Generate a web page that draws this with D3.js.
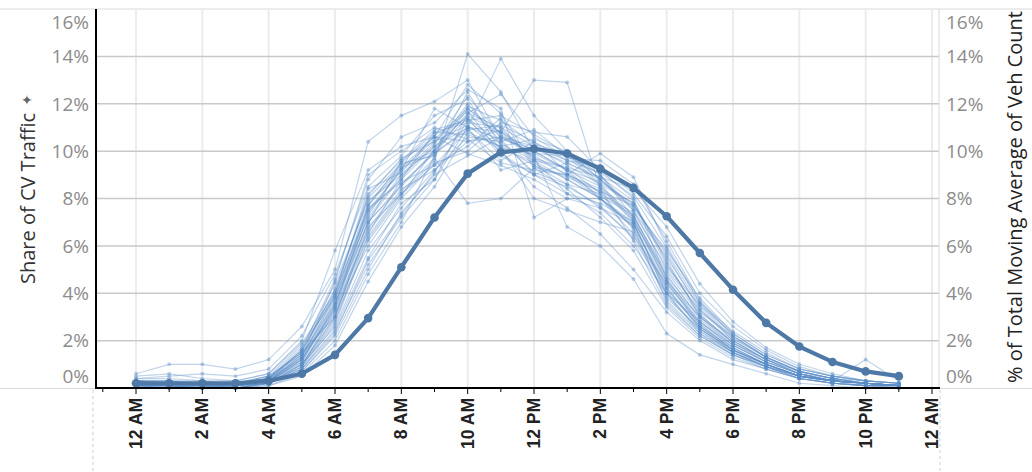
<!DOCTYPE html>
<html>
<head>
<meta charset="utf-8">
<script src="https://cdn.jsdelivr.net/npm/d3@7"></script>
<style>
  body{margin:0;background:#fff;}
  svg{display:block;font-family:"Open Sans","Noto Sans",sans-serif;}
</style>
</head>
<body>
<svg id="chart" width="1032" height="472"></svg>
<script>
// ===== DATA =====
const hours = d3.range(0,24);
const xTickHours = d3.range(0,25,2);
const xTickLabels = ["12 AM","2 AM","4 AM","6 AM","8 AM","10 AM","12 PM","2 PM","4 PM","6 PM","8 PM","10 PM","12 AM"];
const yTicks = [0,2,4,6,8,10,12,14,16];

// total share (thick line)
const totalShare = [0.2,0.2,0.2,0.2,0.3,0.6,1.4,2.95,5.1,7.2,9.05,9.95,10.1,9.9,9.25,8.45,7.25,5.7,4.15,2.75,1.75,1.1,0.7,0.5];

// individual days (thin lines)
const s1  = [0.2,0.1,0.1,0.1,0.3,1.2,3.5,7.5,9.2,10.5,11.8,10.6,9.8,9.0,8.4,7.2,4.5,3.0,2.0,1.2,0.6,0.3,0.2,0.1];
const s2  = [0.3,0.2,0.2,0.2,0.4,1.5,4.2,8.0,9.5,9.8,12.5,10.2,9.5,8.8,8.0,6.5,3.8,2.5,1.6,1.0,0.5,0.3,0.2,0.1];
const s3  = [0.1,0.0,0.0,0.1,0.2,0.9,2.8,6.5,8.8,10.8,11.2,11.0,10.2,9.4,8.6,7.8,5.2,3.2,2.2,1.3,0.7,0.4,0.3,0.2];
const s4  = [0.6,1.0,1.0,0.8,1.2,2.6,5.0,10.4,11.5,12.1,13.0,10.5,9.0,8.2,7.4,6.0,4.0,2.8,1.8,1.1,0.6,0.3,0.2,0.1];
const s5  = [0.2,0.2,0.1,0.1,0.3,1.0,3.0,6.8,8.2,9.6,14.1,12.5,10.0,9.2,8.0,6.8,4.2,2.6,1.5,0.9,0.4,0.2,0.1,0.0];
const s6  = [0.1,0.1,0.1,0.0,0.2,0.8,2.5,5.5,7.8,8.8,11.0,13.9,11.5,10.0,8.8,7.5,5.0,3.3,2.1,1.3,0.7,0.4,0.2,0.1];
const s7  = [0.3,0.3,0.2,0.2,0.5,1.8,3.8,7.2,9.0,10.2,11.5,10.8,13.0,12.9,8.4,6.2,3.5,2.2,1.4,0.9,0.5,0.3,0.2,0.1];
const s8  = [0.2,0.1,0.1,0.1,0.3,1.3,4.5,9.0,10.0,11.0,10.5,9.5,9.2,9.0,9.9,8.9,6.0,3.6,2.4,1.5,0.8,0.5,0.3,0.2];
const s9  = [0.1,0.1,0.0,0.0,0.1,0.5,1.8,4.5,6.8,8.5,10.8,10.2,10.5,10.0,9.0,7.5,5.5,3.4,2.0,1.2,0.6,0.3,0.2,0.1];
const s10 = [0.4,0.5,0.6,0.5,0.8,2.2,4.8,8.5,9.8,11.5,12.2,10.0,8.5,7.6,6.5,5.0,3.2,2.0,1.2,0.8,0.4,0.2,0.1,0.1];
const s11 = [0.2,0.2,0.2,0.2,0.4,1.6,3.9,7.8,9.4,10.0,11.6,11.0,9.6,8.2,7.8,7.0,4.8,2.9,1.8,1.1,0.6,0.3,0.2,0.1];
const s12 = [0.1,0.1,0.1,0.1,0.2,1.0,3.2,6.0,8.0,9.5,10.0,11.2,10.8,10.6,9.2,8.0,4.6,2.7,1.6,1.0,0.5,0.3,0.2,0.1];
const s13 = [0.3,0.2,0.2,0.2,0.5,1.4,3.6,7.0,8.6,10.0,11.4,9.8,9.0,9.5,8.8,7.6,5.8,3.8,2.3,1.4,0.8,0.5,0.3,0.2];
const s14 = [0.2,0.2,0.1,0.1,0.3,1.1,3.4,6.6,8.4,9.2,10.6,10.4,10.9,9.8,8.5,7.0,3.9,2.4,1.5,1.0,0.5,0.3,0.2,0.1];
const s15 = [0.1,0.1,0.0,0.0,0.2,0.7,2.2,5.0,7.4,9.0,9.8,10.6,10.2,9.6,9.4,8.2,6.4,4.0,2.6,1.6,0.9,0.5,0.3,0.2];
const s16 = [0.5,0.6,0.4,0.3,0.6,1.9,4.0,8.2,9.6,10.6,12.8,11.6,9.4,8.6,7.6,6.4,4.4,2.8,1.7,1.0,0.5,0.2,0.1,0.1];
const s17 = [0.2,0.1,0.1,0.1,0.3,1.2,3.3,7.4,9.2,11.8,11.0,9.2,9.6,8.8,8.0,6.8,3.6,2.2,1.4,0.9,0.4,0.2,0.1,0.1];
const s18 = [0.1,0.0,0.0,0.0,0.1,0.6,2.0,4.8,7.0,9.8,11.8,10.8,10.0,9.2,8.7,7.8,5.4,3.0,1.9,1.2,0.6,0.4,0.2,0.1];
const s19 = [0.3,0.3,0.3,0.2,0.4,1.7,4.4,7.9,9.0,10.4,11.1,10.0,9.9,9.8,9.0,7.2,4.9,3.1,1.9,1.1,0.6,0.3,0.2,0.1];
const s20 = [0.2,0.2,0.2,0.1,0.4,1.3,3.7,7.6,8.7,9.4,10.2,11.4,9.3,8.4,7.2,5.8,3.4,2.1,1.3,0.8,0.4,0.2,0.1,0.1];
const s21 = [0.1,0.1,0.1,0.1,0.2,0.9,2.9,6.2,8.1,10.1,12.0,10.4,9.1,8.6,8.2,7.4,5.1,3.5,2.3,1.4,0.8,0.5,0.3,0.2];
const s22 = [0.3,0.2,0.2,0.2,0.5,1.5,3.0,6.9,9.6,10.9,11.3,10.1,8.0,7.5,7.0,6.6,4.1,2.6,1.7,1.0,0.5,0.3,1.2,0.3];
const s23 = [0.2,0.1,0.1,0.1,0.2,1.0,2.6,5.8,7.6,9.2,10.4,10.9,9.7,9.3,8.9,8.4,6.8,4.4,2.8,1.7,1.0,0.6,0.3,0.2];
const s24 = [0.4,0.4,0.3,0.3,0.6,2.0,5.8,9.2,10.2,10.6,9.9,9.4,8.8,8.0,7.6,6.9,4.3,2.5,1.5,0.9,0.4,0.2,0.1,0.1];
const s25 = [0.1,0.1,0.1,0.0,0.2,0.8,2.4,5.2,7.2,8.8,11.6,12.4,10.6,9.7,9.6,8.6,6.2,3.7,2.2,1.3,0.7,0.4,0.2,0.1];
const s26 = [0.2,0.2,0.2,0.1,0.3,1.4,3.1,7.1,8.9,10.3,12.3,10.7,9.8,6.8,6.0,4.6,2.3,1.4,1.0,0.6,0.2,0.1,0.0,0.0];
const s27 = [0.3,0.2,0.2,0.2,0.4,1.2,3.6,7.3,9.3,9.9,10.9,9.6,10.4,9.1,8.1,7.3,4.7,3.0,1.8,1.1,0.6,0.3,0.2,0.1];
const s28 = [0.1,0.1,0.0,0.0,0.2,0.9,3.3,6.4,8.3,9.7,7.8,8.0,9.3,9.0,8.3,7.7,5.6,3.3,2.0,1.2,0.7,0.4,0.2,0.1];
const s29 = [0.2,0.2,0.1,0.1,0.3,1.1,3.5,7.0,8.5,10.0,11.9,11.3,10.3,9.9,8.6,7.1,4.4,2.7,1.6,1.0,0.5,0.3,0.2,0.1];
const s30 = [0.2,0.1,0.1,0.1,0.3,1.6,4.6,8.8,10.6,11.2,12.6,11.8,7.2,8.0,8.0,7.0,4.0,2.3,1.4,0.8,0.4,0.2,0.1,0.1];
const s31 = [0.2,0.2,0.1,0.1,0.3,1.3,3.9,8.4,9.1,10.7,11.4,10.3,9.6,9.3,8.2,6.7,3.7,2.3,1.5,0.9,0.5,0.3,0.2,0.1];
const s32 = [0.1,0.1,0.1,0.1,0.2,1.0,3.0,6.7,8.6,9.9,11.0,10.5,10.1,9.5,8.9,7.9,5.3,3.1,1.9,1.2,0.6,0.3,0.2,0.1];
const s33 = [0.3,0.3,0.2,0.2,0.4,1.6,4.1,8.1,9.7,10.4,11.7,9.9,9.0,8.5,7.7,6.3,4.0,2.4,1.5,0.9,0.5,0.3,0.1,0.1];
const s34 = [0.2,0.1,0.1,0.1,0.2,1.2,3.4,7.7,9.3,10.6,10.4,10.6,9.9,9.2,8.5,7.3,4.6,2.8,1.7,1.0,0.5,0.3,0.2,0.1];
const s35 = [0.1,0.1,0.1,0.0,0.2,0.7,2.3,5.4,7.3,9.1,11.3,11.5,10.7,9.9,8.8,7.7,5.7,3.5,2.1,1.3,0.7,0.4,0.2,0.1];
const s36 = [0.2,0.2,0.2,0.1,0.3,1.4,3.8,7.7,9.5,10.8,10.7,10.2,9.4,8.9,8.3,7.1,4.5,2.6,1.6,1.0,0.5,0.3,0.2,0.1];
const s37 = [0.3,0.2,0.2,0.2,0.4,1.5,4.0,7.5,8.8,10.2,11.0,10.8,9.7,9.0,8.0,6.9,4.2,2.5,1.6,1.0,0.5,0.3,0.2,0.1];
const s38 = [0.1,0.1,0.0,0.0,0.2,0.8,2.7,6.3,8.2,9.4,10.9,11.1,10.4,9.6,9.1,8.1,5.9,3.6,2.2,1.3,0.7,0.4,0.2,0.1];
const daySeries = [s1,s2,s3,s4,s5,s6,s7,s8,s9,s10,s11,s12,s13,s14,s15,s16,s17,s18,s19,
                   s20,s21,s22,s23,s24,s25,s26,s27,s28,s29,s30,s31,s32,s33,s34,s35,s36,s37,s38];

// ===== SETUP =====
const svg = d3.select("#chart");
const W = 1032, H = 472;
const pLeft = 96, pRight = 939, pTop = 9, pBottom = 388;
const blue = "#4e79a7", lightBlue = "#5b8fc7";

const x = d3.scaleLinear().domain([0,24]).range([136,932]);
const y = d3.scaleLinear().domain([0,16]).range([pBottom,pTop]);

// ===== FRAME / GRID =====
svg.append("rect").attr("width",W).attr("height",H).attr("fill","#fff");
svg.append("line").attr("x1",0).attr("x2",W).attr("y1",pTop).attr("y2",pTop).attr("stroke","#d9d9d9");
svg.append("line").attr("x1",0).attr("x2",W).attr("y1",pBottom+0.5).attr("y2",pBottom+0.5).attr("stroke","#d9d9d9");

svg.append("g").selectAll("line").data(xTickHours).join("line")
  .attr("x1",d=>x(d)).attr("x2",d=>x(d)).attr("y1",pTop).attr("y2",pBottom)
  .attr("stroke","#ececec").attr("stroke-width",2);

svg.append("g").selectAll("line").data(yTicks.filter(d=>d>0&&d<16)).join("line")
  .attr("x1",pLeft).attr("x2",pRight).attr("y1",d=>y(d)).attr("y2",d=>y(d))
  .attr("stroke","#c9c9c9").attr("stroke-width",1.5);

svg.append("line").attr("x1",pRight).attr("x2",pRight).attr("y1",pTop).attr("y2",pBottom).attr("stroke","#d9d9d9");

// dashed pane dividers below axis
[93,940].forEach(px=>{
  svg.append("line").attr("x1",px).attr("x2",px).attr("y1",pBottom+2).attr("y2",H)
    .attr("stroke","#cfcfcf").attr("stroke-dasharray","3,3");
});

// ===== THIN LINES =====
const line = d3.line().x((d,i)=>x(hours[i])).y(d=>y(d));
const gDays = svg.append("g");
daySeries.forEach(s=>{
  gDays.append("path").datum(s).attr("d",line).attr("fill","none")
    .attr("stroke",lightBlue).attr("stroke-opacity",0.38).attr("stroke-width",1.2);
  gDays.append("g").selectAll("circle").data(s).join("circle")
    .attr("cx",(d,i)=>x(hours[i])).attr("cy",d=>y(d)).attr("r",2)
    .attr("fill",lightBlue).attr("fill-opacity",0.4);
});

// ===== THICK LINE =====
svg.append("path").datum(totalShare).attr("d",line).attr("fill","none")
  .attr("stroke",blue).attr("stroke-width",4.2).attr("stroke-linejoin","round");
svg.append("g").selectAll("circle").data(totalShare).join("circle")
  .attr("cx",(d,i)=>x(hours[i])).attr("cy",d=>y(d)).attr("r",4.3).attr("fill",blue);

// ===== AXES =====
svg.append("line").attr("x1",pLeft).attr("x2",pLeft).attr("y1",pTop).attr("y2",pBottom+1).attr("stroke","#000").attr("stroke-width",2);
svg.append("line").attr("x1",pLeft).attr("x2",pRight+1).attr("y1",pBottom).attr("y2",pBottom).attr("stroke","#000").attr("stroke-width",2);

// x ticks: major every 2h, minor on odd hours
svg.append("g").selectAll("line").data(d3.range(-1,25)).join("line")
  .attr("x1",d=>x(d)).attr("x2",d=>x(d)).attr("y1",pBottom).attr("y2",d=>d%2===0?pBottom+6:pBottom+4)
  .attr("stroke","#000").attr("stroke-width",1);

svg.append("g").selectAll("text").data(xTickHours).join("text")
  .attr("transform",d=>`translate(${x(d)+6},${pBottom+10}) rotate(-90)`)
  .attr("text-anchor","end").attr("font-family","'Liberation Sans',Arial,sans-serif")
  .attr("font-size",17.5).attr("font-weight","bold").attr("fill","#222")
  .text((d,i)=>xTickLabels[i]);

// y labels (edge labels nudged inward like the source)
const labelY = d=> d===0 ? y(0)-12 : d===16 ? y(16)+13 : y(d);
svg.append("g").selectAll("text").data(yTicks).join("text")
  .attr("x",89).attr("y",d=>labelY(d)).attr("dy","0.36em").attr("text-anchor","end")
  .attr("font-size",19).attr("fill","#8c8c8c").text(d=>d+"%");
svg.append("g").selectAll("text").data(yTicks).join("text")
  .attr("x",946).attr("y",d=>labelY(d)).attr("dy","0.36em").attr("text-anchor","start")
  .attr("font-size",19).attr("fill","#8c8c8c").text(d=>d+"%");

// ===== TITLES =====
svg.append("text").attr("transform","translate(35,284) rotate(-90)").attr("text-anchor","start")
  .attr("font-size",20).attr("fill","#333").text("Share of CV Traffic");
svg.append("text").attr("transform","translate(32,100) rotate(-90)").attr("text-anchor","middle")
  .attr("font-family","'DejaVu Sans',sans-serif").attr("font-size",14).attr("fill","#666").text("✦");
svg.append("text").attr("transform","translate(1022,383) rotate(-90)").attr("text-anchor","start")
  .attr("font-size",20).attr("fill","#222").text("% of Total Moving Average of Veh Count");
</script>
</body>
</html>
